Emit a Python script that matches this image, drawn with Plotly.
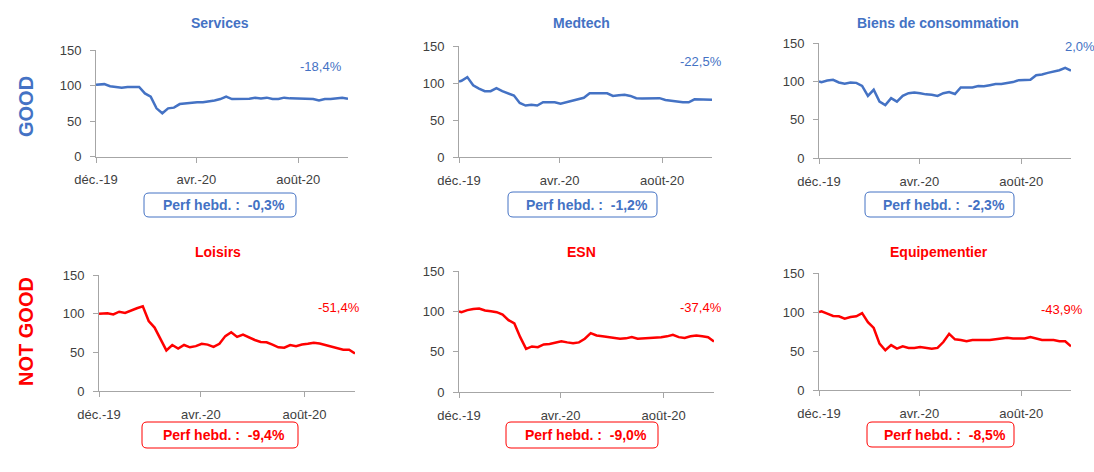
import plotly.graph_objects as go

W, H = 1094, 472

dates = ["2019-12-31",
         "2020-01-03", "2020-01-10", "2020-01-17", "2020-01-24", "2020-01-31",
         "2020-02-07", "2020-02-14", "2020-02-21", "2020-02-28",
         "2020-03-06", "2020-03-13", "2020-03-20", "2020-03-27",
         "2020-04-03", "2020-04-10", "2020-04-17", "2020-04-24",
         "2020-05-01", "2020-05-08", "2020-05-15", "2020-05-22", "2020-05-29",
         "2020-06-05", "2020-06-12", "2020-06-19", "2020-06-26",
         "2020-07-03", "2020-07-10", "2020-07-17", "2020-07-24", "2020-07-31",
         "2020-08-07", "2020-08-14", "2020-08-21", "2020-08-28",
         "2020-09-04", "2020-09-11", "2020-09-18", "2020-09-25",
         "2020-10-02", "2020-10-09", "2020-10-16", "2020-10-23", "2020-10-30"]

services = [101, 101, 102, 99, 98, 97, 98, 98.5, 98,
            89, 84.5, 68, 61, 68, 69, 74, 75,
            75.5, 76.5, 76.5, 77.5, 79, 81, 84.5, 81,
            81, 82, 81.5, 83, 82, 83, 81, 81,
            83, 82, 82, 81.5, 81, 81, 79, 81,
            81, 82, 83, 81.6]
medtech = [102, 103, 108, 97, 92.5, 89, 89, 93, 89,
           85.5, 83, 73, 69.5, 70.5, 69.5, 74, 74,
           74, 72, 74, 75.5, 78.5, 80, 86, 85.5,
           86, 86, 82.5, 83.5, 84, 82.5, 79.5, 79,
           79, 79, 79.5, 77, 76.5, 75, 74, 74,
           78, 78, 78.5, 77.5]
biens = [100, 99, 101, 102, 98.5, 97, 98.5, 98, 94,
         81, 89, 73.5, 69, 78, 73.5, 81, 84.5,
         85.5, 84.5, 83, 82.5, 81, 84.5, 86, 83.5,
         92, 92, 92, 94, 93.5, 95, 96.5, 96.5,
         98, 99, 101.5, 101.5, 102, 108, 109, 111,
         112.5, 114.5, 117.5, 114]
loisirs = [100, 100, 100.5, 99, 102.5, 101, 104.5, 107, 109.5,
           90.5, 82, 66.5, 52.5, 59.5, 55, 59.5, 56.5,
           58, 61, 60, 57, 61, 71, 76, 70,
           73, 69, 66, 63.5, 63, 60, 56.5, 56,
           59.5, 58, 60, 61, 62.5, 61.5, 59.5, 57,
           55, 53.5, 53.5, 48.6]
esn = [100, 99, 101.5, 103, 103.5, 101, 100, 99, 96,
       89, 85, 68, 53.5, 56.5, 55.5, 59, 59.5,
       61.5, 63, 61.5, 60.5, 61.5, 66, 73, 70,
       69, 68, 67, 66, 66.5, 68, 66, 66.5,
       67, 67, 68, 69, 71, 68, 67, 69,
       70, 69, 68, 62.6]
equip = [100, 101, 98, 95, 94.5, 91.5, 93.5, 94.5, 98.5,
         87, 79.5, 59.5, 51, 57.5, 53, 56, 54,
         54, 55, 54, 53, 54, 61.5, 72, 65,
         64, 62.5, 64, 64, 64, 64, 65, 66,
         67, 66, 66, 66, 68, 66, 64, 64,
         64, 62.5, 62.5, 56]

series = [services, medtech, biens, loisirs, esn, equip]
titles = ["Services", "Medtech", "Biens de consommation", "Loisirs", "ESN", "Equipementier"]
ytd_labels = ["-18,4%", "-22,5%", "2,0%", "-51,4%", "-37,4%", "-43,9%"]
weekly_labels = ["-0,3%", "-1,2%", "-2,3%", "-9,4%", "-9,0%", "-8,5%"]
row_labels = ["GOOD", "NOT GOOD"]
x_tickvals = ["2019-12-31", "2020-04-30", "2020-08-31"]
x_ticktext = ["déc.-19", "avr.-20", "août-20"]
y_tickvals = [0, 50, 100, 150]

BLUE = "#4472C4"
RED = "#FF0000"
colors = [BLUE, BLUE, BLUE, RED, RED, RED]
FONT = "Liberation Sans"

# layout geometry in pixels
plot_px = [(96, 348, 50, 156.7), (459, 712, 46, 157), (819, 1071, 43, 158),
           (99, 355, 275, 391), (459, 714, 271, 392), (819, 1071, 273, 390)]
title_px = [(220, 23), (581, 23), (938, 23), (218, 252), (581, 252), (939, 252)]
ytd_px = [(344, 67, "right"), (724, 62, "right"), (1063, 47, "left"),
          (362, 307, "right"), (724, 307, "right"), (1085, 309, "right")]
box_px = [(144, 296, 193, 217), (508, 657, 192, 217), (865, 1014, 192, 217),
          (142, 298, 422, 448), (506, 658, 422, 448), (867, 1014, 422, 447)]
row_px = [(26, 107), (26, 332)]


def px_x(p):
    return p / W


def px_y(p):
    return 1 - p / H


fig = go.Figure()
annotations = []
shapes = []

for i, vals in enumerate(series):
    n = i + 1
    xa = "x" if n == 1 else f"x{n}"
    ya = "y" if n == 1 else f"y{n}"
    fig.add_trace(go.Scatter(x=dates, y=vals, mode="lines",
                             line=dict(color=colors[i], width=2.5),
                             xaxis=xa, yaxis=ya, showlegend=False,
                             hoverinfo="skip"))
    x0, x1, yt, yb = plot_px[i]
    axis_common = dict(showgrid=False, zeroline=False, showline=True,
                       automargin=False,
                       linecolor="#A6A6A6", linewidth=1,
                       ticks="outside", ticklen=5, tickcolor="#A6A6A6",
                       tickfont=dict(family=FONT, size=13, color="#404040"))
    fig.layout[f"xaxis{'' if n == 1 else n}"] = dict(
        domain=[px_x(x0), px_x(x1)], anchor=ya, type="date",
        range=["2019-12-31", "2020-10-30"],
        tickvals=x_tickvals, ticktext=x_ticktext,
        ticklabelstandoff=6, **axis_common)
    fig.layout[f"yaxis{'' if n == 1 else n}"] = dict(
        domain=[px_y(yb), px_y(yt)], anchor=xa, range=[0, 150],
        tickvals=y_tickvals, ticklabelstandoff=6, **axis_common)

    tx, ty = title_px[i]
    annotations.append(dict(x=px_x(tx), y=px_y(ty), xref="paper", yref="paper",
                            text=f"<b>{titles[i]}</b>", showarrow=False,
                            xanchor="center", yanchor="middle",
                            font=dict(family=FONT, size=14, color=colors[i])))
    ax, ay, anc = ytd_px[i]
    annotations.append(dict(x=px_x(ax), y=px_y(ay), xref="paper", yref="paper",
                            text=ytd_labels[i], showarrow=False,
                            xanchor=anc, yanchor="middle",
                            font=dict(family=FONT, size=13, color=colors[i])))
    bx0, bx1, by0, by1 = box_px[i]
    r = 5
    path = (f"M {px_x(bx0 + r)},{px_y(by0)} L {px_x(bx1 - r)},{px_y(by0)} "
            f"Q {px_x(bx1)},{px_y(by0)} {px_x(bx1)},{px_y(by0 + r)} "
            f"L {px_x(bx1)},{px_y(by1 - r)} "
            f"Q {px_x(bx1)},{px_y(by1)} {px_x(bx1 - r)},{px_y(by1)} "
            f"L {px_x(bx0 + r)},{px_y(by1)} "
            f"Q {px_x(bx0)},{px_y(by1)} {px_x(bx0)},{px_y(by1 - r)} "
            f"L {px_x(bx0)},{px_y(by0 + r)} "
            f"Q {px_x(bx0)},{px_y(by0)} {px_x(bx0 + r)},{px_y(by0)} Z")
    shapes.append(dict(type="path", path=path, xref="paper", yref="paper",
                       line=dict(color=colors[i], width=1), fillcolor="white"))
    annotations.append(dict(x=px_x((bx0 + bx1) / 2 + 4), y=px_y((by0 + by1) / 2),
                            xref="paper", yref="paper",
                            text=f"<b>Perf hebd. :  {weekly_labels[i]}</b>",
                            showarrow=False, xanchor="center", yanchor="middle",
                            font=dict(family=FONT, size=14, color=colors[i])))

for j, lab in enumerate(row_labels):
    rx, ry = row_px[j]
    annotations.append(dict(x=px_x(rx), y=px_y(ry), xref="paper", yref="paper",
                            text=f"<b>{lab}</b>", showarrow=False, textangle=-90,
                            xanchor="center", yanchor="middle",
                            font=dict(family=FONT, size=20,
                                      color=BLUE if j == 0 else RED)))

fig.update_layout(template="none", width=W, height=H, autosize=False,
                  margin=dict(l=0, r=0, t=0, b=0, pad=0),
                  paper_bgcolor="white", plot_bgcolor="white",
                  font=dict(family=FONT),
                  annotations=annotations, shapes=shapes)

fig.write_html("out.html", config={"displayModeBar": False},
               post_script="document.body.style.margin='0';")
